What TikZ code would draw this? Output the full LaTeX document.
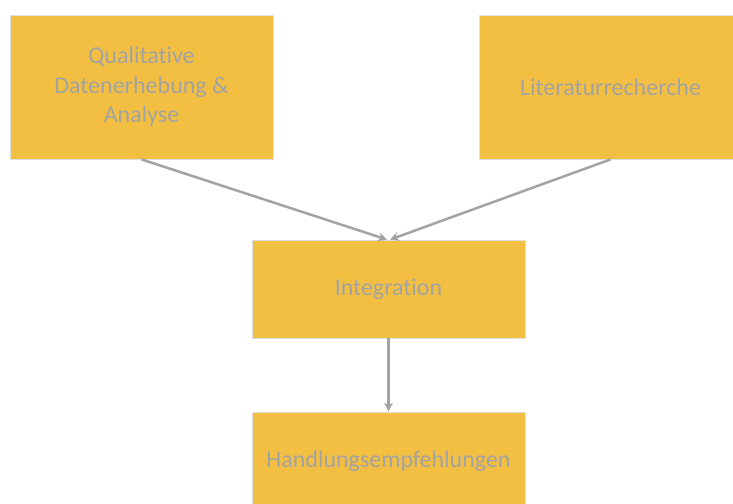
\documentclass[tikz,border=0pt]{standalone}
\usepackage{fontspec}
\setmainfont{Carlito}[Ligatures=CommonOff]
\usepackage{tikz}
\usetikzlibrary{arrows.meta}

\definecolor{boxfill}{HTML}{F2BF42}
\definecolor{boxtext}{HTML}{A3A3A3}
\definecolor{arrowgray}{HTML}{A3A3A3}

\begin{document}
\begin{tikzpicture}[x=1pt,y=-1pt]
  \tikzstyle{stage}=[rectangle,draw=black!12,line width=0.8pt,fill=boxfill,text=boxtext,
    font=\fontsize{24}{29.5}\selectfont,align=center,inner sep=0pt]
  \tikzstyle{flow}=[-{Stealth[length=9pt,width=9pt,inset=3pt]},line width=2.5pt,color=arrowgray]
  \useasboundingbox (0,0) rectangle (733,503);
  \clip (0,0) rectangle (733,503);
  \node[stage,minimum width=263pt,minimum height=144pt] (qual) at (141.5,87) {Qualitative\\Datenerhebung \&\\Analyse};
  \node[stage,minimum width=263pt,minimum height=144pt] (lit) at (610.5,87) {Literaturrecherche};
  \node[stage,minimum width=273pt,minimum height=98pt] (int) at (388.5,289) {Integration};
  \node[stage,minimum width=273pt,minimum height=98pt] (hand) at (388.5,461) {Handlungsempfehlungen};
  \foreach \s/\t/\e in {qual/int/-1.5,lit/int/1.5,int/hand/0} {
    \draw[flow] (\s.south) -- ([xshift=\e pt]\t.north);
  }
\end{tikzpicture}
\end{document}
